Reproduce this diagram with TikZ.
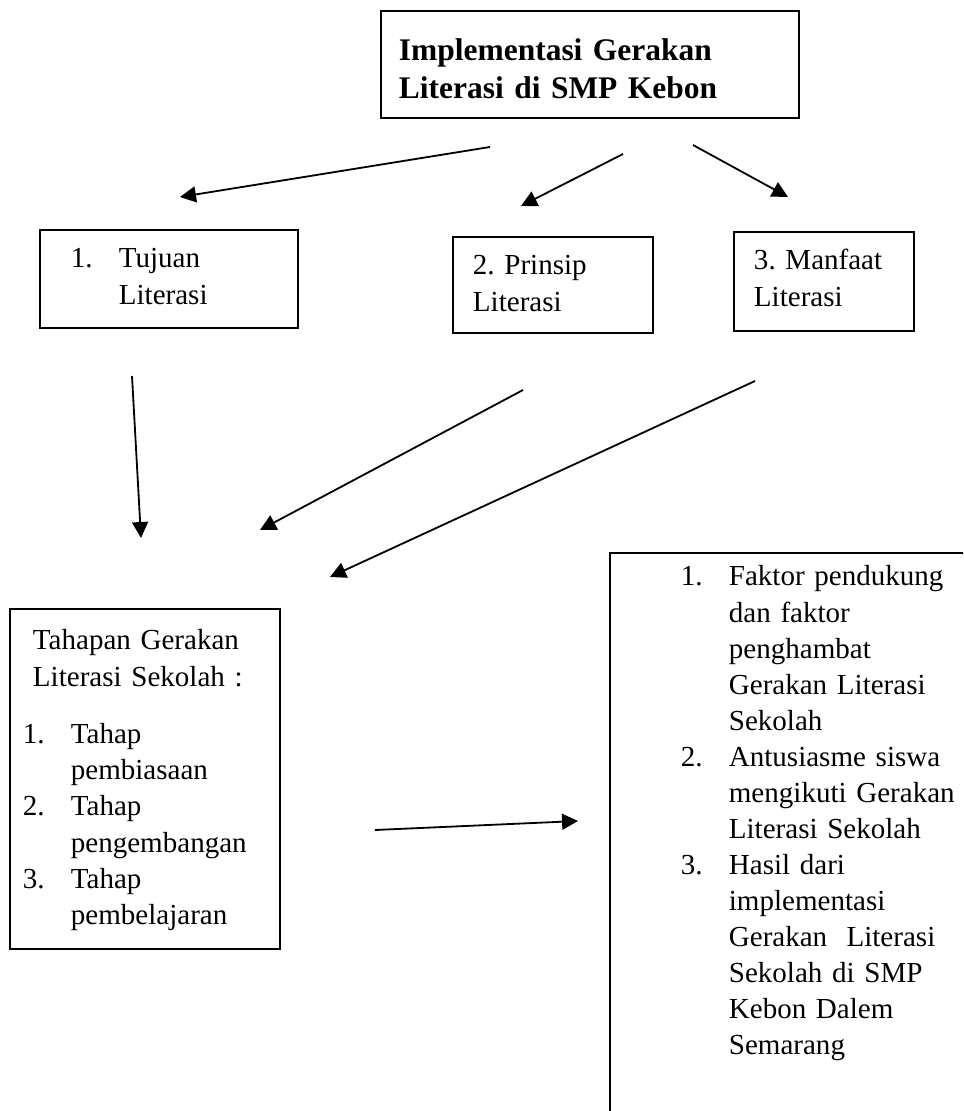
\documentclass[tikz,border=0pt]{standalone}
\usepackage{fontspec}
\setmainfont{Liberation Serif}
\usetikzlibrary{arrows.meta}
\frenchspacing

\newdimen\pxu
\pxu=0.4132pt
\newcommand\nomor[1]{\makebox[19.8pt][l]{#1}}
\newcommand\lanjut{\hspace*{19.8pt}}

\begin{document}
\begin{tikzpicture}[x=0.4132pt, y=-0.4132pt,
    box/.style={draw, line width=0.8pt, anchor=north west, align=left,
      inner ysep=0pt, font=\fontsize{12pt}{14.9pt}\selectfont},
    arr/.style={line width=0.75pt, -{Triangle[length=6.6pt, width=6.6pt]}}
    ]
    \path[use as bounding box, fill=white] (0,0) rectangle (963,1111);
    \clip (0,0) rectangle (963,1111);

    % boxes
    \node[box, inner xsep=18\pxu, text width=382\pxu, text height=50\pxu, text depth=57\pxu,
      font=\fontsize{13pt}{15.7pt}\selectfont\bfseries] (judul) at (380,10)
      {Implementasi Gerakan\\Literasi di SMP Kebon};
    \node[box, inner xsep=31\pxu, text width=196\pxu, text height=38\pxu, text depth=60\pxu]
      (tujuan) at (39,229) {\nomor{1.}Tujuan\\\lanjut Literasi};
    \node[box, inner xsep=20\pxu, text width=160\pxu, text height=38\pxu, text depth=58\pxu]
      (prinsip) at (452,236) {2. Prinsip\\Literasi};
    \node[box, inner xsep=20\pxu, text width=140\pxu, text height=38\pxu, text depth=61\pxu]
      (manfaat) at (733,231) {3. Manfaat\\Literasi};
    \node[box, inner xsep=13\pxu, text width=244\pxu, text height=41\pxu, text depth=299\pxu]
      (tahapan) at (9,608) {\hspace*{10\pxu}Tahapan Gerakan\\
      \hspace*{10\pxu}Literasi Sekolah :\\[9pt]
      \nomor{1.}Tahap\\\lanjut pembiasaan\\
      \nomor{2.}Tahap\\\lanjut pengembangan\\
      \nomor{3.}Tahap\\\lanjut pembelajaran};
    \node[box, inner xsep=71\pxu, text width=300\pxu, text height=33\pxu, text depth=565\pxu]
      (hasil) at (609,552) {\nomor{1.}Faktor pendukung\\\lanjut dan faktor\\
      \lanjut penghambat\\\lanjut Gerakan Literasi\\\lanjut Sekolah\\
      \nomor{2.}Antusiasme siswa\\\lanjut mengikuti Gerakan\\\lanjut Literasi Sekolah\\
      \nomor{3.}Hasil dari\\\lanjut implementasi\\\lanjut Gerakan\ \ Literasi\\
      \lanjut Sekolah di SMP\\\lanjut Kebon Dalem\\\lanjut Semarang};

    % free ends of the arrows
    \coordinate (judulA) at (490,147);
    \coordinate (judulB) at (623,154);
    \coordinate (judulC) at (693,145);
    \coordinate (keTujuan) at (180,197);
    \coordinate (kePrinsip) at (521,206);
    \coordinate (keManfaat) at (788,197);
    \coordinate (dariTujuan) at (132,376);
    \coordinate (dariPrinsip) at (523,390);
    \coordinate (dariManfaat) at (755,381);
    \coordinate (keTahapanA) at (141,538);
    \coordinate (keTahapanB) at (260,530);
    \coordinate (keTahapanC) at (330,577);
    \coordinate (dariTahapan) at (375,830);
    \coordinate (keHasil) at (578,821);

    \draw[arr] (judulA) -- (keTujuan);
    \draw[arr] (judulB) -- (kePrinsip);
    \draw[arr] (judulC) -- (keManfaat);
    \draw[arr] (dariTujuan) -- (keTahapanA);
    \draw[arr] (dariPrinsip) -- (keTahapanB);
    \draw[arr] (dariManfaat) -- (keTahapanC);
    \draw[arr] (dariTahapan) -- (keHasil);
\end{tikzpicture}
\end{document}
